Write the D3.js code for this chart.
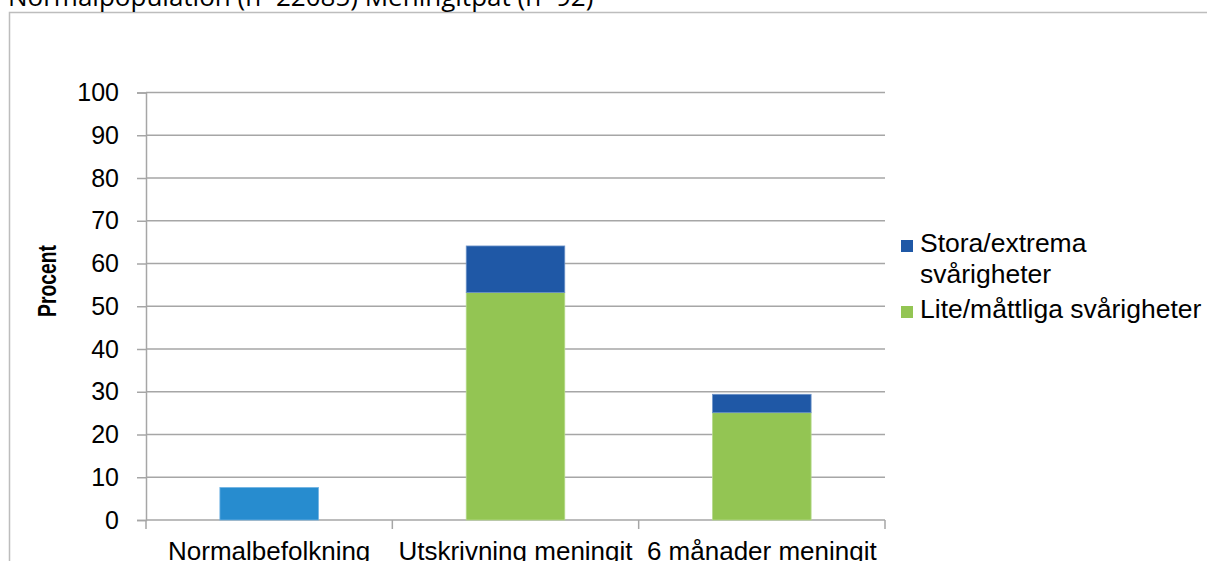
<!DOCTYPE html>
<html>
<head>
<meta charset="utf-8">
<script src="https://cdn.jsdelivr.net/npm/d3@7"></script>
<style>
  html, body { margin: 0; padding: 0; background: #fff; overflow: hidden; }
  svg { display: block; }
</style>
</head>
<body>
<svg id="chart" width="1207" height="561"></svg>
<script>
// ---- data ----
const titleText = "Normalpopulation (n=22085) Meningitpat (n=92)";
const categories = ["Normalbefolkning", "Utskrivning meningit", "6 månader meningit"];
const normalValues = [7.6, 0, 0];          // Normalbefolkning (single bar)
const liteValues = [0, 53.2, 25.1];        // Lite/måttliga svårigheter
const storaValues = [0, 10.9, 4.3];        // Stora/extrema svårigheter
const yTicks = [0, 10, 20, 30, 40, 50, 60, 70, 80, 90, 100];
const yLabel = "Procent";
const legendLabels = [["Stora/extrema", "svårigheter"], ["Lite/måttliga svårigheter"]];

const colNormal = "#278CCF";
const colStora = "#1F58A6";
const colLite = "#93C553";

const svg = d3.select("#chart");

// frame
svg.append("path")
  .attr("d", "M9.5,561 L9.5,12.5 L1207,12.5")
  .attr("fill", "none").attr("stroke", "#BDBDBD").attr("stroke-width", 1.5);

// title (clipped at top)
svg.append("text")
  .attr("x", 8).attr("y", 6)
  .attr("font-family", "Open Sans, sans-serif").attr("font-size", 26)
  .attr("fill", "#000")
  .text(titleText);

const y = d3.scaleLinear().domain([0, 100]).range([520, 92.5]);
const x = d3.scaleBand().domain(categories).range([146, 885]).paddingInner(0.6).paddingOuter(0.3);

// gridlines
svg.append("g").selectAll("line").data(yTicks.filter(d => d > 0)).join("line")
  .attr("x1", 146).attr("x2", 885)
  .attr("y1", d => y(d)).attr("y2", d => y(d))
  .attr("stroke", "#A6A6A6").attr("stroke-width", 1.5);

// y axis
const yAxis = svg.append("g").attr("transform", "translate(146,0)")
  .call(d3.axisLeft(y).tickValues(yTicks).tickSize(9).tickPadding(18));
yAxis.select(".domain").attr("stroke", "#A6A6A6").attr("stroke-width", 1.5);
yAxis.selectAll(".tick line").attr("stroke", "#A6A6A6").attr("stroke-width", 1.5);
yAxis.selectAll(".tick text")
  .attr("font-family", "Liberation Sans, Arial, sans-serif").attr("font-size", 25).attr("fill", "#000");

// x axis
const step = x.step();
const bounds = [0, 1, 2, 3].map(i => x.range()[0] + i * step);
svg.append("line").attr("x1", 146).attr("x2", 885).attr("y1", y(0)).attr("y2", y(0))
  .attr("stroke", "#A6A6A6").attr("stroke-width", 1.5);
svg.append("g").selectAll("line").data(bounds).join("line")
  .attr("x1", d => d).attr("x2", d => d).attr("y1", y(0)).attr("y2", y(0) + 9)
  .attr("stroke", "#A6A6A6").attr("stroke-width", 1.5);
svg.append("g").selectAll("text").data(categories).join("text")
  .attr("x", d => x(d) + x.bandwidth() / 2).attr("y", 560)
  .attr("text-anchor", "middle")
  .attr("font-family", "Liberation Sans, Arial, sans-serif").attr("font-size", 26).attr("fill", "#000")
  .text(d => d);

// bars
const bw = x.bandwidth();
const barG = svg.append("g");
categories.forEach((c, i) => {
  if (normalValues[i] > 0) {
    barG.append("rect").attr("x", x(c)).attr("width", bw)
      .attr("y", y(normalValues[i])).attr("height", y(0) - y(normalValues[i]))
      .attr("fill", colNormal).attr("stroke", "#6FB2E3").attr("stroke-width", 0.8);
  }
  if (liteValues[i] > 0) {
    barG.append("rect").attr("x", x(c)).attr("width", bw)
      .attr("y", y(liteValues[i])).attr("height", y(0) - y(liteValues[i]))
      .attr("fill", colLite).attr("stroke", "#B4D98A").attr("stroke-width", 0.8);
  }
  if (storaValues[i] > 0) {
    const top = liteValues[i] + storaValues[i];
    barG.append("rect").attr("x", x(c)).attr("width", bw)
      .attr("y", y(top)).attr("height", y(liteValues[i]) - y(top))
      .attr("fill", colStora).attr("stroke", "#6D93C8").attr("stroke-width", 0.8);
  }
});

// y label
svg.append("text")
  .attr("transform", "translate(56,281) rotate(-90)")
  .attr("text-anchor", "middle")
  .attr("font-family", "Liberation Sans Narrow, Arial Narrow, sans-serif")
  .attr("font-weight", "bold").attr("font-size", 25).attr("fill", "#000")
  .attr("textLength", 72).attr("lengthAdjust", "spacingAndGlyphs")
  .text(yLabel);

// legend
const lg = svg.append("g");
const legendColors = [colStora, colLite];
const legendBase = [252, 318];
legendLabels.forEach((lines, i) => {
  lg.append("rect").attr("x", 901).attr("y", legendBase[i] - 12).attr("width", 12).attr("height", 12)
    .attr("fill", legendColors[i]);
  lines.forEach((t, j) => {
    lg.append("text").attr("x", 920).attr("y", legendBase[i] + j * 31)
      .attr("font-family", "Liberation Sans, Arial, sans-serif").attr("font-size", 26.5).attr("fill", "#000")
      .text(t);
  });
});
</script>
</body>
</html>
